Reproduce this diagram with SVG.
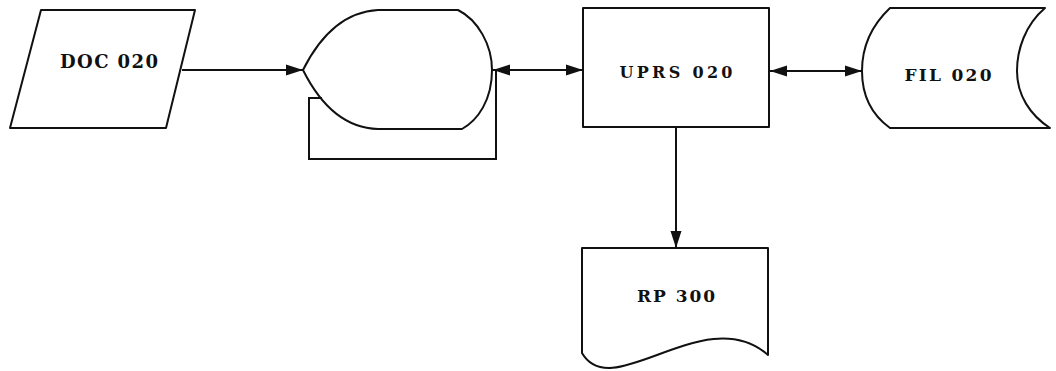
<svg xmlns="http://www.w3.org/2000/svg" width="1056" height="371" viewBox="0 0 1056 371">
<style>
.shape{fill:none;stroke:#111;stroke-width:2;stroke-linejoin:round}
.conn{fill:none;stroke:#111;stroke-width:2}
.lbl{font-family:"DejaVu Serif","Liberation Serif",serif;font-weight:bold;fill:#111;text-anchor:middle}
</style>
<defs>
<marker id="ah" markerUnits="userSpaceOnUse" markerWidth="18" markerHeight="12" refX="17" refY="6" orient="auto-start-reverse" viewBox="0 0 18 12">
<path d="M0,0.5 L17,6 L0,11.5 Z" fill="#111"/>
</marker>
</defs>
<rect width="1056" height="371" fill="#fff"/>
<g id="doc020">
<polygon class="shape" points="41,10 195,10 166,128 10,128"/>
<text class="lbl" x="109" y="68" font-size="18" textLength="98" lengthAdjust="spacing">DOC 020</text>
</g>
<g id="display">
<path class="shape" d="M303,70 C318,40 342,12 378,10 H458 C478,20 492,45 492,70 C492,100 478,120 462,129 H378 C342,128 318,100 303,70 Z"/>
</g>
<g id="uprs020">
<rect class="shape" x="583" y="8" width="186" height="119"/>
<text class="lbl" x="676" y="78" font-size="16" textLength="113" lengthAdjust="spacing">UPRS 020</text>
</g>
<g id="fil020">
<path class="shape" d="M890,8 H1045 C1025,25 1017,50 1017,71 C1017,95 1030,115 1050,128 H890 C872,115 862,95 862,71 C862,47 872,25 890,8 Z"/>
<text class="lbl" x="948" y="81" font-size="17" textLength="87" lengthAdjust="spacing">FIL 020</text>
</g>
<g id="rp300">
<path class="shape" d="M582,248 H768 V355 C705,300 612,405 582,353 Z"/>
<text class="lbl" x="676" y="302" font-size="17" textLength="78" lengthAdjust="spacing">RP 300</text>
</g>
<g id="connectors">
<line class="conn" x1="182" y1="70" x2="303" y2="70" marker-end="url(#ah)"/>
<line class="conn" x1="493" y1="70" x2="583" y2="70" marker-start="url(#ah)" marker-end="url(#ah)"/>
<line class="conn" x1="770" y1="71" x2="862" y2="71" marker-start="url(#ah)" marker-end="url(#ah)"/>
<line class="conn" x1="676" y1="127" x2="676" y2="248" marker-end="url(#ah)"/>
<path class="conn" d="M322,98 H309 V159 H496 V70"/>
</g>
</svg>
